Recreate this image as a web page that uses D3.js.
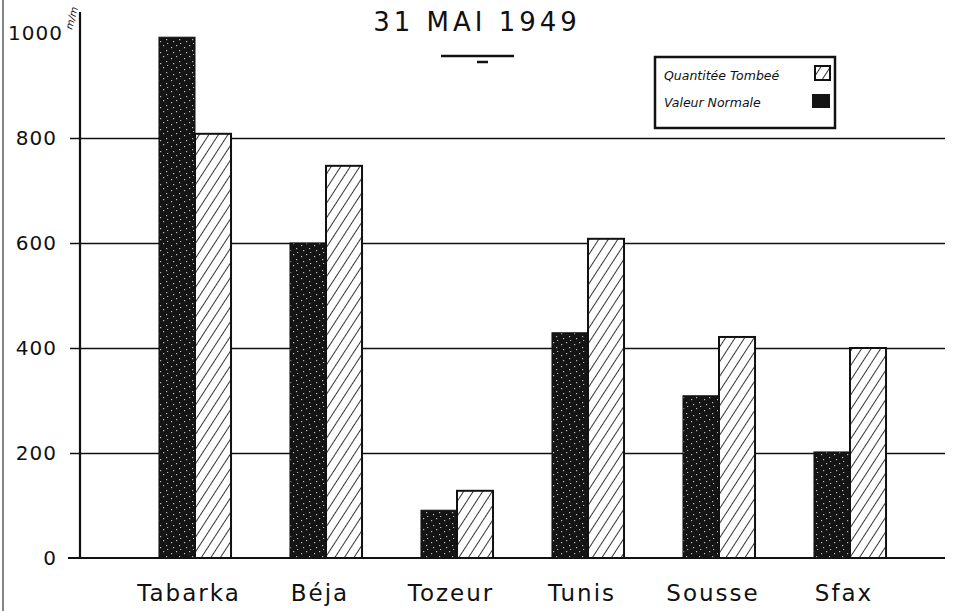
<!DOCTYPE html>
<html>
<head>
<meta charset="utf-8">
<script src="https://cdn.jsdelivr.net/npm/d3@7"></script>
<style>
  body { margin: 0; background: #fff; }
  text { font-family: "DejaVu Sans", sans-serif; fill: #111; }
</style>
</head>
<body>
<div id="chart"></div>
<script>
// Data
let stations = ['Tabarka', 'Béja', 'Tozeur', 'Tunis', 'Sousse', 'Sfax'];
let normalValues = [992, 600, 91, 429, 309, 202];   // Valeur Normale (dark)
let fallenValues = [808, 747, 128, 608, 421, 400];  // Quantitée Tombeé (hatched)
let yTicks = [0, 200, 400, 600, 800, 1000];

let svgWidth = 961;
let svgHeight = 611;

let svg = d3.select('#chart').append('svg')
  .attr('width', svgWidth)
  .attr('height', svgHeight);

// Patterns
let defs = svg.append('defs');
let hatch = defs.append('pattern')
  .attr('id', 'hatch')
  .attr('patternUnits', 'userSpaceOnUse')
  .attr('width', 8).attr('height', 8)
  .attr('patternTransform', 'rotate(33)');
hatch.append('rect').attr('width', 8).attr('height', 8).attr('fill', '#fff');
hatch.append('line')
  .attr('x1', 0).attr('y1', 0).attr('x2', 0).attr('y2', 8)
  .attr('stroke', '#111').attr('stroke-width', 1.7);

let speck = defs.append('pattern')
  .attr('id', 'speck')
  .attr('patternUnits', 'userSpaceOnUse')
  .attr('width', 13).attr('height', 11);
speck.append('rect').attr('width', 13).attr('height', 11).attr('fill', '#141414');
[[2, 3], [7, 1], [10, 6], [4, 8], [11, 10]].forEach(p => {
  speck.append('rect').attr('x', p[0]).attr('y', p[1])
    .attr('width', 1.2).attr('height', 1.2).attr('fill', '#bbb');
});

// Scales
let y = d3.scaleLinear().domain([0, 1000]).range([558, 33]);
let x = d3.scaleBand().domain(stations).range([129.5, 915.5]).paddingInner(0.45).paddingOuter(0.225);
let barW = x.bandwidth() / 2;

// Gridlines
svg.append('g').selectAll('line')
  .data(yTicks.filter(d => d > 0 && d < 1000))
  .enter().append('line')
  .attr('x1', 70).attr('x2', 945)
  .attr('y1', d => Math.round(y(d)) + 0.5).attr('y2', d => Math.round(y(d)) + 0.5)
  .attr('stroke', '#111').attr('stroke-width', 1.3);

// Baseline
svg.append('line')
  .attr('x1', 68).attr('x2', 945)
  .attr('y1', y(0)).attr('y2', y(0))
  .attr('stroke', '#111').attr('stroke-width', 2);

// y-axis line
svg.append('line')
  .attr('x1', 80).attr('x2', 80)
  .attr('y1', 12).attr('y2', y(0) + 1)
  .attr('stroke', '#111').attr('stroke-width', 2.2);

// left border of scan
svg.append('line')
  .attr('x1', 3).attr('x2', 3).attr('y1', 0).attr('y2', 611)
  .attr('stroke', '#333').attr('stroke-width', 1.2);

// y tick labels
svg.append('g').selectAll('text')
  .data(yTicks)
  .enter().append('text')
  .attr('x', d => d === 1000 ? 63 : 57)
  .attr('y', d => y(d) + 7)
  .attr('text-anchor', 'end')
  .attr('font-size', 20)
  .attr('letter-spacing', 1)
  .text(d => d);

// unit label
svg.append('text')
  .attr('transform', 'translate(72,30) rotate(-75)')
  .attr('font-size', 10)
  .attr('font-style', 'italic')
  .text('m/m');

// Bars - normal values (dark)
svg.append('g').selectAll('rect')
  .data(stations)
  .enter().append('rect')
  .attr('x', d => x(d))
  .attr('y', (d, i) => y(normalValues[i]))
  .attr('width', barW)
  .attr('height', (d, i) => y(0) - y(normalValues[i]))
  .attr('fill', 'url(#speck)')
  .attr('stroke', '#111').attr('stroke-width', 1);

// Bars - fallen quantity (hatched)
svg.append('g').selectAll('rect')
  .data(stations)
  .enter().append('rect')
  .attr('x', d => x(d) + barW)
  .attr('y', (d, i) => y(fallenValues[i]))
  .attr('width', barW)
  .attr('height', (d, i) => y(0) - y(fallenValues[i]))
  .attr('fill', 'url(#hatch)')
  .attr('stroke', '#111').attr('stroke-width', 2);

// Category labels
svg.append('g').selectAll('text')
  .data(stations)
  .enter().append('text')
  .attr('x', d => x(d) + x.bandwidth() / 2 - 6)
  .attr('y', 601)
  .attr('text-anchor', 'middle')
  .attr('font-size', 23)
  .attr('letter-spacing', 2)
  .text(d => d);

// Title
svg.append('text')
  .attr('x', 477).attr('y', 31)
  .attr('text-anchor', 'middle')
  .attr('font-size', 26)
  .attr('letter-spacing', 4)
  .text('31 MAI 1949');
svg.append('line')
  .attr('x1', 441).attr('x2', 514).attr('y1', 56).attr('y2', 56)
  .attr('stroke', '#111').attr('stroke-width', 2.5);
svg.append('line')
  .attr('x1', 477).attr('x2', 488).attr('y1', 62).attr('y2', 62)
  .attr('stroke', '#111').attr('stroke-width', 2.5);

// Legend
let legend = svg.append('g').attr('transform', 'translate(655,57)');
legend.append('rect')
  .attr('width', 180).attr('height', 71)
  .attr('fill', '#fff')
  .attr('stroke', '#111').attr('stroke-width', 2.5);
legend.append('text')
  .attr('x', 9).attr('y', 23)
  .attr('font-size', 12.5).attr('font-style', 'italic')
  .text('Quantitée Tombeé');
legend.append('rect')
  .attr('x', 160).attr('y', 9).attr('width', 15).attr('height', 14)
  .attr('fill', 'url(#hatch)').attr('stroke', '#111').attr('stroke-width', 2);
legend.append('text')
  .attr('x', 9).attr('y', 50)
  .attr('font-size', 12.5).attr('font-style', 'italic')
  .text('Valeur Normale');
legend.append('rect')
  .attr('x', 157).attr('y', 37).attr('width', 18).attr('height', 14)
  .attr('fill', '#141414');
</script>
</body>
</html>
